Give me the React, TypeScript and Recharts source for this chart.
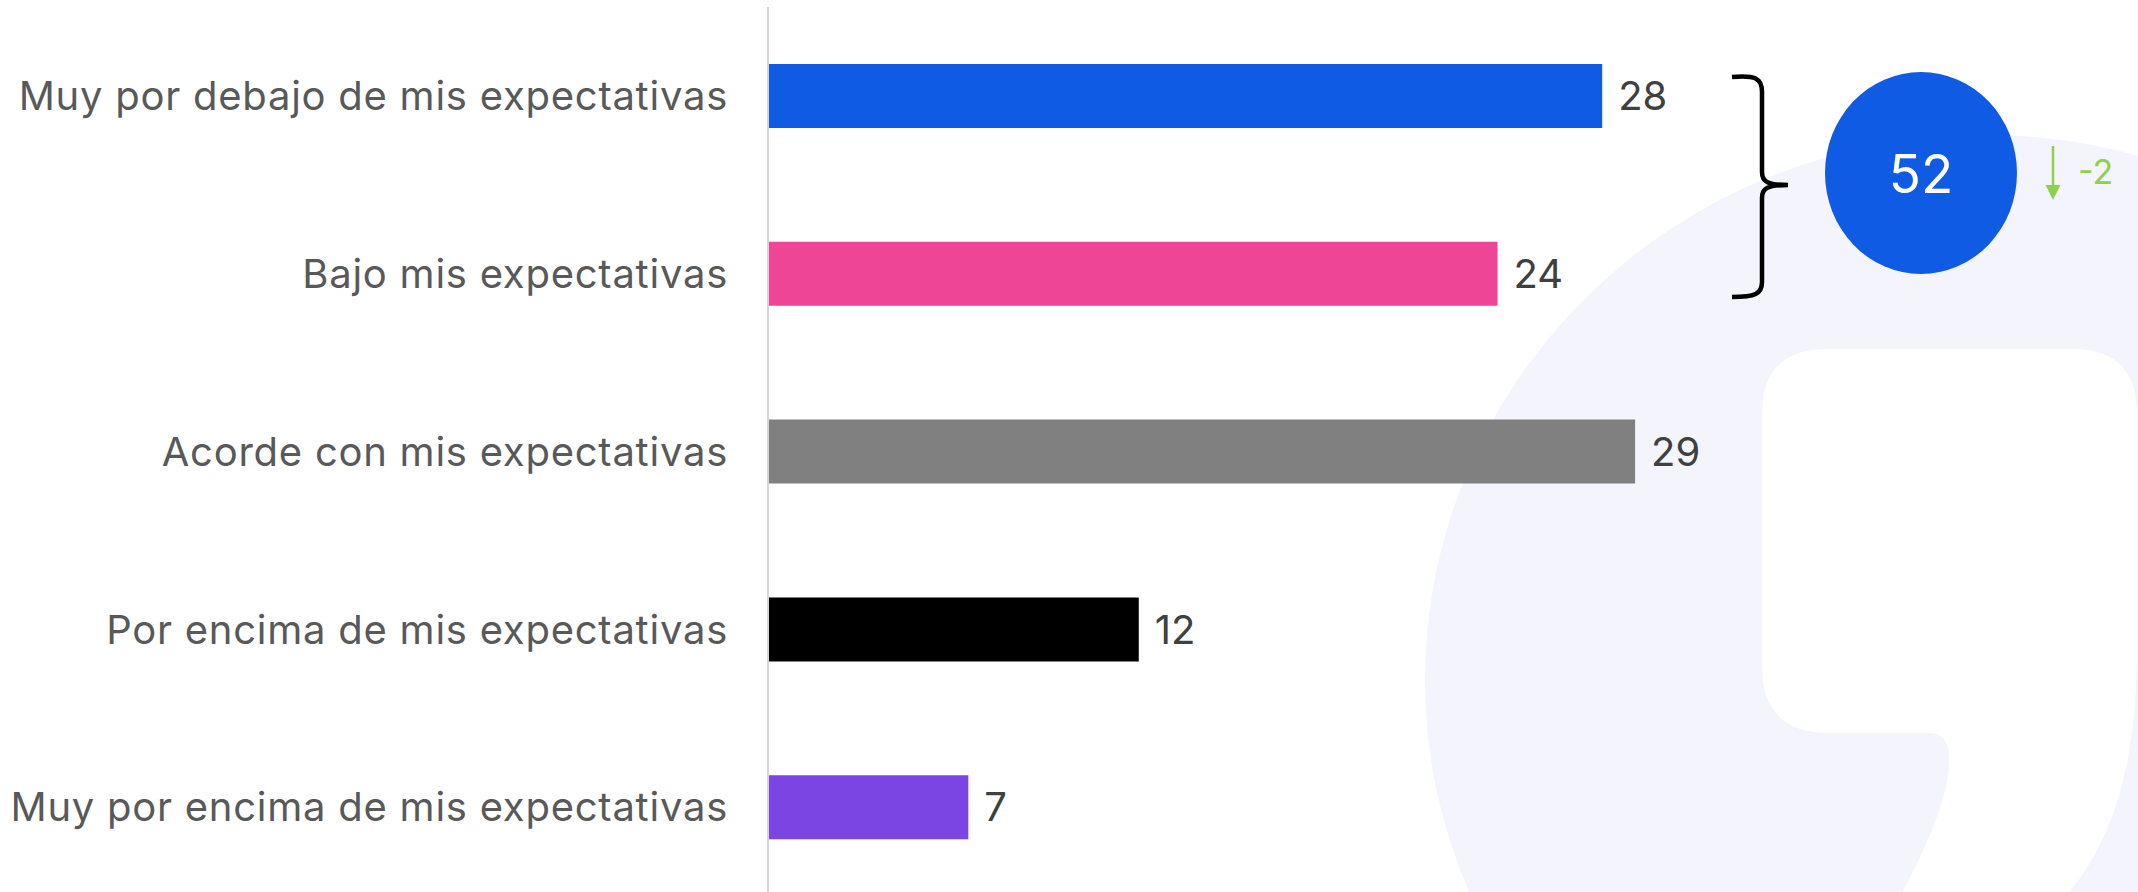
import React from 'react'
import { BarChart, Bar, XAxis, YAxis, Cell, LabelList } from 'recharts'

const categories = [
  'Muy por debajo de mis expectativas',
  'Bajo mis expectativas',
  'Acorde con mis expectativas',
  'Por encima de mis expectativas',
  'Muy por encima de mis expectativas',
]
const values = [27.9, 24.4, 29.0, 12.4, 6.7]
const colors = ['#105BE4', '#EE4596', '#808080', '#000000', '#7A45E2']

const groupTotal = '52'
const groupDelta = '-2'

const W = 2138
const H = 892
const FONT = 'Inter, "Noto Sans", sans-serif'

const data = categories.map((name, i) => ({ name, value: values[i], color: colors[i] }))

// light watermark shape behind the chart
function Backdrop() {
  return (
    <svg width={W} height={H} style={{ position: 'absolute', left: 0, top: 0 }}>
      <ellipse cx={1985} cy={680} rx={560} ry={545} fill="#F3F4FC" />
      <path
        d="M 1827 349 L 2072 349 Q 2137 349 2137 414 L 2137 650 C 2137 780, 2105 850, 2067 895 L 1901 895 C 1930 840, 1949 795, 1949 760 Q 1949 733 1930 733 L 1829 733 Q 1762 733 1762 666 L 1762 414 Q 1762 349 1827 349 Z"
        fill="#FFFFFF"
      />
    </svg>
  )
}

function Annotations() {
  return (
    <svg width={W} height={H} style={{ position: 'absolute', left: 0, top: 0, pointerEvents: 'none' }}>
      <path
        d="M 1732 77 C 1755 75, 1762 78, 1762 92 L 1762 172 C 1762 182, 1768 185, 1788 185 M 1788 185 C 1768 185, 1762 188, 1762 198 L 1762 282 C 1762 294, 1755 297, 1732 297"
        fill="none"
        stroke="#000"
        strokeWidth={4.5}
      />
      <ellipse cx={1921} cy={173} rx={96} ry={101} fill="#105BE4" />
      <text x={1921} y={193} textAnchor="middle" fontFamily={FONT} fontSize={53} fill="#fff">
        {groupTotal}
      </text>
      <line x1={2053} y1={146} x2={2053} y2={188} stroke="#8DD14F" strokeWidth={2.5} />
      <polygon points="2045.5,185 2060.5,185 2053,200" fill="#8DD14F" />
      <text x={2078} y={184} fontFamily={FONT} fontSize={34} fill="#8DD14F">
        {groupDelta}
      </text>
    </svg>
  )
}

export default function App() {
  return (
    <div style={{ position: 'relative', width: W, height: H, overflow: 'hidden', background: '#fff' }}>
      <style>{'body{margin:0}'}</style>
      <Backdrop />
      <div style={{ position: 'absolute', left: 0, top: 0 }}>
        <BarChart
          layout="vertical"
          width={W}
          height={896}
          data={data}
          margin={{ top: 7, right: 174, bottom: 0, left: 0 }}
        >
          <XAxis type="number" domain={[0, 40]} hide />
          <YAxis
            type="category"
            dataKey="name"
            width={768}
            axisLine={{ stroke: '#D6D6D6', strokeWidth: 2 }}
            tickLine={false}
            tickSize={0}
            tickMargin={40}
            tick={{ fill: '#595959', fontSize: 40, fontFamily: FONT, letterSpacing: 0.75 }}
          />
          <Bar dataKey="value" barSize={64} isAnimationActive={false}>
            {data.map((d) => (
              <Cell key={d.name} fill={d.color} />
            ))}
            <LabelList
              dataKey="value"
              position="right"
              offset={16}
              formatter={(v: number) => String(Math.round(v))}
              style={{ fill: '#404040', fontSize: 40, fontFamily: FONT }}
            />
          </Bar>
        </BarChart>
      </div>
      <Annotations />
    </div>
  )
}
